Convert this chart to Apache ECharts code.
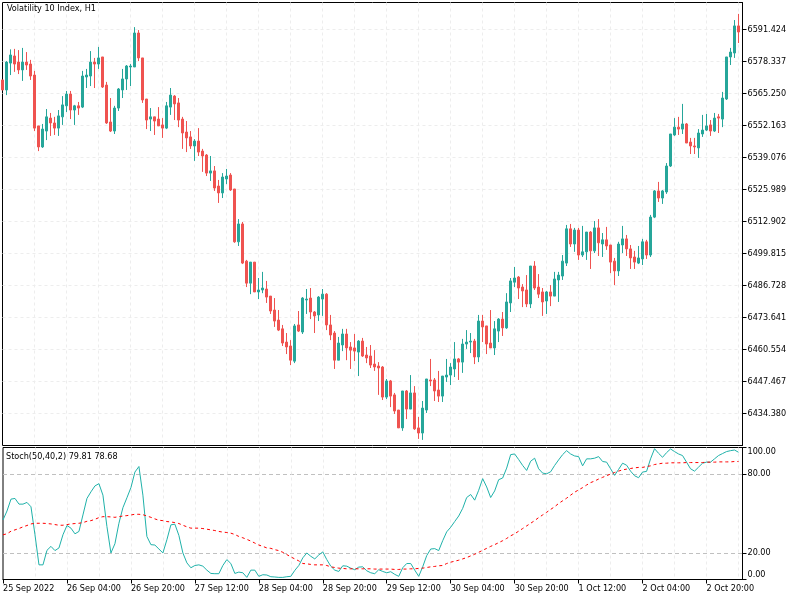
<!DOCTYPE html>
<html>
<head>
<meta charset="utf-8">
<title>Volatility 10 Index, H1</title>
<script src="https://cdn.jsdelivr.net/npm/echarts@6/dist/echarts.min.js"></script>
<style>
  html, body { margin: 0; padding: 0; background: #fff; }
  #chart { width: 800px; height: 600px; }
</style>
</head>
<body>
<div id="chart"></div>
<script>
const tickLabels = ['25 Sep 2022', '26 Sep 04:00', '26 Sep 20:00', '27 Sep 12:00', '28 Sep 04:00', '28 Sep 20:00',
  '29 Sep 12:00', '30 Sep 04:00', '30 Sep 20:00', '1 Oct 12:00', '2 Oct 04:00', '2 Oct 20:00'];
const priceTicks = [6434.380, 6447.467, 6460.554, 6473.641, 6486.728, 6499.815, 6512.902,
  6525.989, 6539.076, 6552.163, 6565.250, 6578.337, 6591.424];
const stochTicks = [0, 20, 80, 100];

const opens = [
  6570.8,6566.7,6577.7,6580.6,6578.1,6574.9,6578.1,6577.3,6572.8,6552.0,
  6543.4,6549.9,6555.2,6553.2,6551.1,6555.7,6560.2,6565.0,6558.5,6560.2,
  6559.7,6572.0,6572.4,6578.1,6577.3,6580.2,6568.7,6553.6,6549.9,6559.3,
  6566.7,6571.2,6576.1,6576.1,6590.0,6579.8,6563.0,6554.8,6555.7,6554.8,
  6552.4,6551.1,6559.7,6564.2,6561.4,6554.8,6549.5,6547.5,6543.8,6545.8,
  6541.7,6540.1,6532.7,6533.6,6527.4,6524.6,6530.3,6531.9,6526.2,6504.6,
  6511.9,6496.7,6487.7,6496.3,6484.1,6484.9,6485.3,6482.4,6476.7,6472.6,
  6469.0,6463.6,6462.0,6455.8,6470.6,6467.7,6480.8,6481.6,6475.9,6474.7,
  6481.2,6483.2,6470.6,6467.3,6456.2,6462.4,6466.9,6461.6,6461.2,6459.5,
  6464.0,6458.3,6457.9,6454.6,6453.8,6453.4,6441.1,6447.7,6442.0,6435.8,
  6428.5,6443.6,6436.2,6442.8,6428.5,6426.4,6435.8,6448.1,6448.1,6444.0,
  6441.5,6449.3,6450.1,6452.6,6456.7,6455.4,6462.8,6463.6,6464.0,6457.5,
  6472.2,6470.2,6463.2,6461.2,6468.1,6473.0,6469.4,6479.6,6488.1,6490.2,
  6486.1,6484.9,6479.2,6494.7,6486.1,6484.1,6480.4,6484.1,6482.4,6489.0,
  6490.6,6495.9,6509.9,6503.7,6509.4,6499.2,6500.5,6508.6,6500.9,6510.3,
  6503.7,6505.4,6503.3,6496.7,6492.7,6503.3,6505.8,6501.7,6498.4,6495.9,
  6497.6,6504.6,6499.2,6514.7,6525.4,6522.5,6525.0,6535.6,6548.3,6551.5,
  6550.7,6552.8,6545.4,6543.8,6543.0,6548.7,6550.3,6552.4,6549.9,6555.7,
  6554.8,6563.0,6580.2,6581.8,6592.9
];
const highs = [
  6570.8,6578.5,6583.3,6583.5,6583.0,6583.9,6582.2,6579.0,6574.5,6552.0,
  6552.8,6558.9,6557.3,6555.7,6558.5,6564.2,6566.3,6566.3,6560.6,6561.8,
  6574.5,6575.3,6582.6,6579.8,6584.3,6580.2,6570.0,6563.4,6560.2,6567.5,
  6575.3,6576.9,6577.3,6592.4,6591.2,6579.8,6563.0,6559.3,6555.7,6559.7,
  6555.2,6561.8,6567.5,6564.6,6563.4,6555.7,6554.0,6549.9,6546.6,6551.1,
  6542.6,6540.5,6539.7,6535.6,6529.9,6532.7,6534.4,6532.7,6526.2,6513.9,
  6512.7,6497.2,6496.3,6496.3,6489.8,6492.3,6488.6,6482.4,6481.6,6476.7,
  6470.6,6467.3,6464.4,6471.0,6476.3,6482.0,6485.3,6485.7,6476.3,6482.4,
  6485.3,6483.6,6474.7,6468.1,6465.7,6469.0,6469.0,6463.6,6466.9,6464.4,
  6465.3,6461.6,6462.4,6460.3,6455.4,6453.8,6448.5,6448.1,6442.8,6435.8,
  6443.6,6444.0,6450.1,6445.6,6433.0,6439.5,6448.5,6456.7,6448.9,6451.8,
  6449.7,6456.7,6455.0,6463.6,6457.1,6464.9,6468.5,6467.3,6464.9,6474.7,
  6474.7,6470.2,6476.7,6472.2,6473.4,6475.9,6483.6,6489.8,6494.3,6490.6,
  6487.3,6491.0,6494.7,6496.7,6491.4,6485.7,6484.5,6486.9,6492.3,6492.3,
  6499.2,6511.5,6511.9,6510.3,6510.3,6511.1,6508.6,6509.0,6513.1,6513.9,
  6508.2,6510.7,6503.3,6498.0,6504.6,6511.1,6507.4,6503.3,6500.9,6502.9,
  6505.8,6505.4,6515.6,6525.8,6529.1,6525.8,6536.8,6548.7,6555.2,6555.7,
  6561.0,6553.2,6547.1,6547.1,6550.7,6556.5,6556.9,6554.4,6557.3,6556.9,
  6565.9,6580.2,6583.9,6595.3,6597.8
];
const lows = [
  6566.7,6564.6,6572.8,6574.1,6573.2,6570.4,6574.9,6570.8,6549.9,6541.7,
  6543.0,6546.2,6547.9,6548.3,6547.9,6552.4,6557.7,6554.8,6552.4,6556.5,
  6559.3,6567.5,6568.3,6567.5,6575.3,6567.5,6552.8,6549.5,6548.7,6558.1,
  6563.4,6566.7,6568.3,6576.1,6578.5,6561.4,6550.7,6549.9,6548.3,6552.0,
  6547.1,6550.7,6556.5,6554.4,6551.5,6542.6,6541.3,6542.6,6537.7,6539.7,
  6533.2,6531.5,6529.5,6525.4,6520.5,6522.5,6528.2,6525.4,6504.2,6502.9,
  6495.5,6486.1,6483.2,6484.1,6481.2,6483.6,6479.6,6475.1,6469.8,6468.1,
  6462.0,6458.7,6454.2,6455.0,6467.7,6466.9,6475.1,6473.0,6467.3,6472.2,
  6474.3,6468.5,6464.4,6452.6,6456.2,6459.9,6456.2,6452.6,6455.8,6449.7,
  6457.5,6455.0,6453.0,6451.8,6442.0,6439.9,6440.3,6437.0,6434.2,6428.5,
  6427.3,6432.1,6436.2,6427.7,6424.0,6423.6,6434.6,6445.6,6439.5,6439.1,
  6439.1,6447.3,6446.0,6449.3,6448.1,6451.0,6460.8,6459.1,6454.6,6455.4,
  6463.6,6458.7,6461.2,6458.3,6463.6,6466.1,6469.0,6475.9,6486.1,6481.2,
  6477.9,6477.9,6477.5,6484.9,6481.6,6474.3,6475.1,6478.3,6482.4,6480.0,
  6489.0,6494.7,6502.5,6500.5,6497.2,6498.4,6497.2,6493.5,6500.0,6498.8,
  6498.4,6501.3,6491.8,6486.9,6490.6,6500.0,6498.8,6493.5,6493.5,6495.5,
  6495.1,6497.6,6498.4,6514.3,6520.9,6520.1,6524.2,6535.2,6547.9,6548.3,
  6548.7,6545.0,6540.5,6540.5,6538.9,6547.5,6549.9,6547.9,6549.5,6549.1,
  6551.5,6562.6,6576.9,6579.8,6585.9
];
const closes = [
  6566.7,6578.1,6581.0,6577.3,6574.9,6578.1,6576.9,6572.4,6551.1,6543.4,
  6550.7,6555.7,6553.2,6551.1,6556.1,6560.6,6565.0,6558.5,6560.2,6559.3,
  6572.4,6572.8,6578.1,6577.3,6579.8,6567.9,6553.2,6549.9,6559.3,6567.1,
  6571.2,6576.5,6576.5,6590.0,6579.8,6562.6,6554.4,6555.7,6554.0,6552.0,
  6551.1,6560.2,6564.6,6561.0,6554.4,6549.1,6547.1,6543.8,6545.8,6541.3,
  6539.7,6532.7,6533.6,6526.6,6524.6,6531.1,6531.5,6525.8,6504.6,6511.9,
  6495.9,6487.7,6496.3,6484.1,6484.9,6485.7,6482.0,6476.3,6472.2,6468.5,
  6463.2,6461.6,6456.2,6470.2,6468.1,6481.6,6481.2,6475.9,6474.3,6482.0,
  6483.2,6470.6,6466.5,6456.2,6463.2,6466.9,6461.2,6460.3,6459.9,6464.0,
  6457.9,6457.1,6454.2,6453.4,6453.0,6441.1,6447.7,6441.5,6435.4,6428.5,
  6443.6,6436.2,6442.8,6428.1,6426.4,6436.6,6448.5,6447.7,6443.6,6441.5,
  6449.7,6450.1,6453.4,6456.7,6455.4,6462.8,6463.6,6464.0,6457.5,6472.2,
  6469.8,6462.8,6461.2,6469.0,6473.0,6469.4,6480.0,6488.6,6489.8,6485.7,
  6484.5,6479.2,6494.7,6485.7,6483.2,6480.0,6484.1,6482.4,6489.4,6491.0,
  6496.7,6509.9,6503.7,6509.4,6499.2,6500.5,6508.6,6500.9,6510.3,6504.2,
  6505.4,6502.9,6496.3,6492.7,6503.7,6505.8,6501.7,6498.0,6496.3,6498.0,
  6504.6,6499.2,6514.7,6525.4,6522.5,6525.4,6535.6,6548.7,6551.5,6550.7,
  6552.8,6545.0,6543.8,6543.4,6549.1,6550.3,6552.0,6549.9,6555.2,6555.2,
  6563.4,6580.2,6582.2,6592.9,6590.4
];

const stochMain = [
  45.1,51.9,60.9,61.4,57.1,57.1,58.4,55.1,33.9,11.1,
  11.1,22.1,25.1,21.9,23.9,33.9,40.9,38.9,34.6,36.4,
  48.9,61.4,66.4,70.9,72.6,63.9,40.1,20.1,27.1,42.6,
  54.4,61.9,69.6,81.4,85.6,63.9,32.6,26.4,26.1,23.1,
  20.1,30.1,41.4,41.9,33.4,20.1,12.6,8.9,10.6,11.1,
  10.1,7.1,4.6,4.4,4.4,10.6,15.1,12.1,4.6,5.6,
  5.1,1.6,7.1,7.1,2.4,3.6,3.4,2.1,1.9,1.6,
  1.6,2.1,2.4,6.9,10.6,16.4,20.1,17.6,15.6,18.6,
  20.9,15.1,10.1,7.1,6.1,10.4,10.1,8.6,7.4,9.4,
  9.6,6.6,5.1,4.4,7.4,6.1,5.1,5.9,3.9,2.4,
  8.9,12.1,12.1,7.1,2.4,9.6,18.1,23.1,23.4,21.9,
  29.4,36.1,39.6,43.9,48.1,53.9,62.1,64.4,60.1,67.6,
  76.4,70.1,62.1,67.1,75.6,76.9,84.4,94.6,95.1,90.9,
  86.4,82.6,89.6,91.9,83.9,80.6,80.1,81.6,86.4,90.6,
  94.6,97.6,95.1,93.6,93.1,86.1,91.4,91.4,91.9,93.1,
  89.4,88.9,83.9,78.9,83.4,88.1,86.6,82.1,78.6,77.1,
  81.4,81.9,91.4,99.1,95.6,92.6,96.1,98.9,96.9,95.1,
  93.9,88.9,83.9,82.1,85.1,88.1,88.9,88.9,91.4,93.9,
  95.4,96.9,97.6,98.1,96.4
];
const stochSignal = [
  33.9,34.6,36.6,37.6,38.6,39.9,40.9,42.1,42.6,42.6,
  42.6,42.4,42.1,41.6,41.1,41.1,41.6,42.1,42.4,42.6,
  43.1,44.1,44.6,45.6,46.9,47.6,47.6,47.4,47.1,47.6,
  48.1,48.4,48.9,49.4,49.4,49.1,48.1,47.1,45.9,44.9,
  44.6,43.9,43.6,43.1,42.4,41.1,39.9,38.9,38.9,38.9,
  38.6,38.1,37.6,37.1,36.4,35.9,35.6,35.1,34.1,32.6,
  31.6,30.4,29.1,27.6,26.1,25.1,23.9,23.6,22.6,21.9,
  20.6,18.9,17.1,15.6,14.1,12.1,11.9,11.4,11.1,11.1,
  11.1,10.6,9.6,9.1,8.6,8.4,8.1,8.1,8.1,8.1,
  8.1,8.1,8.1,7.9,7.9,7.9,7.9,7.9,7.6,7.6,
  7.9,7.9,8.1,8.1,8.4,8.6,9.1,9.6,9.9,10.4,
  10.6,12.1,13.1,13.9,14.6,15.6,16.6,17.9,19.1,20.6,
  22.1,23.6,25.1,26.4,27.9,29.4,31.1,33.1,34.6,36.6,
  38.6,40.6,42.6,44.6,46.9,48.9,50.9,53.1,55.1,57.6,
  59.6,61.6,63.9,66.1,67.9,69.6,71.6,73.4,74.6,76.1,
  77.4,78.6,79.9,81.1,82.1,83.1,83.6,84.1,84.6,84.9,
  84.9,85.6,86.1,87.1,87.6,88.1,88.1,88.4,88.4,88.4,
  88.4,88.6,88.6,88.6,88.6,88.6,88.9,88.9,88.9,89.1,
  89.1,89.1,89.1,89.4,89.4
];

const upColor = '#26A69A';
const downColor = '#EF5350';
const gridColor = '#EDEDED';
const textColor = '#000000';
const fontName = '"DejaVu Sans Condensed", "DejaVu Sans"';
const fontSize = 9;

// one empty slot after the last candle so the frame ends 4px to its right
const categories = [];
for (let i = 0; i <= opens.length; i++) {
    categories.push(i % 16 === 0 ? (tickLabels[i / 16] || '') : '');
}
const candles = opens.map((o, i) => [o, closes[i], lows[i], highs[i]]);

function xAxisFor(gridIndex, showLabels) {
    return {
        type: 'category',
        gridIndex: gridIndex,
        data: categories,
        boundaryGap: false,
        axisLine: { show: gridIndex === 1, lineStyle: { color: '#000', width: 1 } },
        axisTick: { show: showLabels, interval: 15, length: 4, lineStyle: { color: '#000' } },
        axisLabel: {
            show: showLabels,
            interval: 15,
            align: 'left',
            color: textColor,
            fontFamily: fontName,
            fontSize: fontSize,
            margin: 5
        },
        splitLine: { show: true, showMinLine: false, interval: 7, lineStyle: { color: gridColor, type: [3, 3], width: 1 } }
    };
}

const option = {
    animation: false,
    backgroundColor: '#fff',
    title: [
        { text: 'Volatility 10 Index, H1', left: 7, top: 4, padding: 0,
          textStyle: { color: textColor, fontFamily: fontName, fontSize: fontSize, fontWeight: 'normal' } },
        { text: 'Stoch(50,40,2) 79.81 78.68', left: 6, top: 452, padding: 0,
          textStyle: { color: textColor, fontFamily: fontName, fontSize: fontSize, fontWeight: 'normal' } }
    ],
    grid: [
        { left: 2.5, top: 2.5, width: 740, height: 443, show: true, borderColor: '#000', borderWidth: 1, backgroundColor: '#fff' },
        { left: 2.5, top: 447.5, width: 740, height: 132, show: true, borderColor: '#000', borderWidth: 1, backgroundColor: '#fff' }
    ],
    xAxis: [xAxisFor(0, false), xAxisFor(1, true)],
    yAxis: [
        {
            type: 'value',
            gridIndex: 0,
            position: 'right',
            min: 6421.30,
            max: 6602.47,
            axisLine: { show: true, lineStyle: { color: '#000' } },
            axisTick: { show: true, length: 4, customValues: priceTicks, lineStyle: { color: '#000' } },
            axisLabel: {
                customValues: priceTicks,
                formatter: v => v.toFixed(3),
                color: textColor,
                fontFamily: fontName,
                fontSize: fontSize,
                margin: 5
            },
            splitLine: { show: true, lineStyle: { color: gridColor, type: [3, 3], width: 1 } }
        },
        {
            type: 'value',
            gridIndex: 1,
            position: 'right',
            min: 0,
            max: 100,
            axisLine: { show: true, lineStyle: { color: '#000' } },
            axisTick: { show: true, length: 4, customValues: stochTicks, lineStyle: { color: '#000' } },
            axisLabel: {
                customValues: stochTicks,
                formatter: v => v.toFixed(2),
                color: textColor,
                fontFamily: fontName,
                fontSize: fontSize,
                margin: 5,
                verticalAlignMinLabel: 'bottom',
                verticalAlignMaxLabel: 'top'
            },
            splitLine: { show: true, showMinLine: false, showMaxLine: false, lineStyle: { color: '#C0C0C0', type: [4, 3], width: 1 } }
        }
    ],
    series: [
        {
            name: 'Volatility 10 Index',
            type: 'candlestick',
            xAxisIndex: 0,
            yAxisIndex: 0,
            barWidth: 2,
            data: candles,
            itemStyle: {
                color: upColor,
                color0: downColor,
                borderColor: upColor,
                borderColor0: downColor,
                borderWidth: 1
            }
        },
        {
            name: 'Stoch',
            type: 'line',
            xAxisIndex: 1,
            yAxisIndex: 1,
            data: stochMain,
            showSymbol: false,
            lineStyle: { color: '#20B2AA', width: 1 }
        },
        {
            name: 'Signal',
            type: 'line',
            xAxisIndex: 1,
            yAxisIndex: 1,
            data: stochSignal,
            showSymbol: false,
            lineStyle: { color: '#FF0000', width: 1, type: [3, 3] }
        }
    ]
};

const chart = echarts.init(document.getElementById('chart'), null, { renderer: 'canvas' });
chart.setOption(option);
</script>
</body>
</html>
